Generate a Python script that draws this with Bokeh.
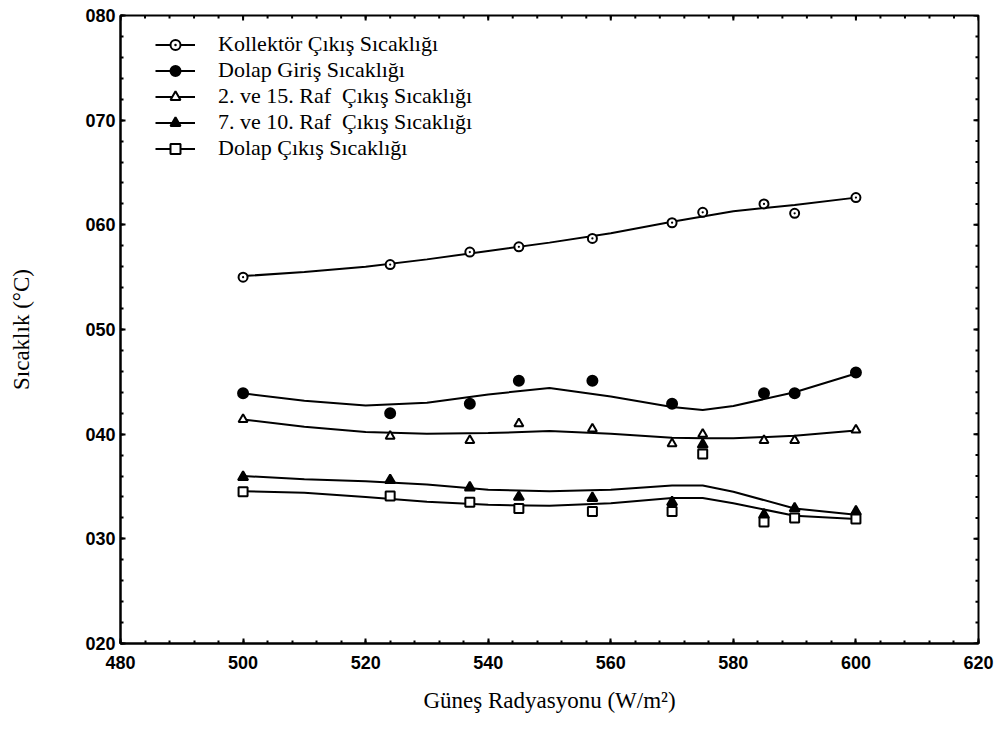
import math
from bokeh.plotting import figure
from bokeh.models import Range1d, FixedTicker, PrintfTickFormatter, Legend, LegendItem
from bokeh.embed import file_html
from bokeh.resources import INLINE

# ---- data ----
x_pts = [500, 524, 537, 545, 557, 570, 575, 585, 590, 600]
kollektor = [55.0, 56.2, 57.4, 57.9, 58.7, 60.2, 61.2, 62.0, 61.1, 62.6]
dolap_giris_x = [500, 524, 537, 545, 557, 570, 585, 590, 600]
dolap_giris = [43.9, 42.0, 42.9, 45.1, 45.1, 42.9, 43.9, 43.9, 45.9]
raf_2_15 = [41.4, 39.8, 39.4, 41.0, 40.5, 39.1, 40.0, 39.4, 39.4, 40.4]
raf_7_10 = [35.9, 35.6, 34.9, 34.0, 33.9, 33.5, 39.0, 32.3, 32.9, 32.6]
dolap_cikis = [34.5, 34.1, 33.5, 32.9, 32.6, 32.6, 38.1, 31.6, 32.0, 31.9]

# fitted (smoothed) curves
x_fit = [500, 510, 520, 530, 540, 550, 560, 570, 575, 580, 590, 600]
kollektor_fit = [55.1, 55.5, 56.0, 56.7, 57.5, 58.3, 59.2, 60.3, 60.8, 61.3, 61.9, 62.6]
dolap_giris_fit = [43.9, 43.2, 42.75, 43.0, 43.8, 44.4, 43.6, 42.6, 42.3, 42.7, 44.0, 45.8]
raf_2_15_fit = [41.4, 40.7, 40.2, 40.05, 40.1, 40.3, 40.05, 39.65, 39.6, 39.6, 39.85, 40.35]
raf_7_10_fit = [36.0, 35.7, 35.5, 35.2, 34.7, 34.55, 34.7, 35.1, 35.1, 34.5, 32.9, 32.3]
dolap_cikis_fit = [34.55, 34.4, 34.0, 33.55, 33.25, 33.15, 33.4, 33.9, 33.9, 33.4, 32.2, 31.9]

labels = ["Kollektör Çıkış Sıcaklığı", "Dolap Giriş Sıcaklığı",
          "2. ve 15. Raf  Çıkış Sıcaklığı", "7. ve 10. Raf  Çıkış Sıcaklığı",
          "Dolap Çıkış Sıcaklığı"]
x_ticks = [480, 500, 520, 540, 560, 580, 600, 620]
y_ticks = [20, 30, 40, 50, 60, 70, 80]
x_minor = [480 + 4 * i for i in range(36)]
y_minor = [20 + 2 * i for i in range(31)]

p = figure(width=998, height=728, output_backend="svg", toolbar_location=None,
           x_range=Range1d(480, 620), y_range=Range1d(20, 80),
           min_border_left=120, min_border_right=20, min_border_top=15,
           min_border_bottom=85)
p.grid.visible = False
p.outline_line_color = "black"
p.outline_line_width = 2
p.background_fill_color = "white"

tick_font = "Liberation Sans"
serif = "Liberation Serif"

p.xaxis.ticker = FixedTicker(ticks=x_ticks, minor_ticks=x_minor)
p.yaxis.ticker = FixedTicker(ticks=y_ticks, minor_ticks=y_minor)
p.yaxis.formatter = PrintfTickFormatter(format="%03d")

for ax in (p.xaxis[0], p.yaxis[0]):
    ax.axis_line_width = 2
    ax.axis_line_color = "black"
    ax.major_tick_in = 5
    ax.major_tick_out = 0
    ax.minor_tick_in = 3
    ax.minor_tick_out = 0
    ax.major_tick_line_width = 2
    ax.minor_tick_line_width = 2
    ax.major_label_text_font = tick_font
    ax.major_label_text_font_style = "bold"
    ax.major_label_text_font_size = "18px"
    ax.major_label_text_color = "black"
    ax.axis_label_text_font = serif
    ax.axis_label_text_font_style = "normal"
    ax.axis_label_text_font_size = "23px"
    ax.axis_label_text_color = "black"

p.xaxis.axis_label = "Güneş Radyasyonu (W/m²)"
p.yaxis.axis_label = "Sıcaklık (°C)"
p.xaxis.major_label_standoff = 12
p.xaxis.axis_label_standoff = 16
p.yaxis.major_label_standoff = 5
p.yaxis.axis_label_standoff = 48

# tick marks on the top and right borders, placed at the tick values
p.scatter(x_ticks, [80] * len(x_ticks), marker="dash", angle=math.pi / 2, size=10,
          line_color="black", line_width=2)
p.scatter(x_minor, [80] * len(x_minor), marker="dash", angle=math.pi / 2, size=6,
          line_color="black", line_width=2)
p.scatter([620] * len(y_ticks), y_ticks, marker="dash", size=10,
          line_color="black", line_width=2)
p.scatter([620] * len(y_minor), y_minor, marker="dash", size=6,
          line_color="black", line_width=2)

lw = 2
r_items = []
series = [
    (x_fit, kollektor_fit, x_pts, kollektor, "circle_dot", "white", 9),
    (x_fit, dolap_giris_fit, dolap_giris_x, dolap_giris, "circle", "black", 10),
    (x_fit, raf_2_15_fit, x_pts, raf_2_15, "triangle", "white", 9),
    (x_fit, raf_7_10_fit, x_pts, raf_7_10, "triangle", "black", 10),
    (x_fit, dolap_cikis_fit, x_pts, dolap_cikis, "square", "white", 9),
]
for (xf, yf, xp, yp, mk, fill, sz), lab in zip(series, labels):
    ln = p.line(xf, yf, line_color="black", line_width=lw)
    sc = p.scatter(xp, yp, marker=mk, size=sz, line_color="black", line_width=2,
                   fill_color=fill)
    r_items.append(LegendItem(label=lab, renderers=[ln, sc]))

legend = Legend(items=r_items, location=(35, 482))
legend.border_line_color = None
legend.background_fill_alpha = 0
legend.label_text_font = serif
legend.label_text_font_size = "22px"
legend.label_text_color = "black"
legend.glyph_width = 40
legend.glyph_height = 25
legend.label_height = 25
legend.spacing = 0
legend.padding = 5
legend.label_standoff = 23
p.add_layout(legend, "center")

open("out.html", "w").write(file_html(p, INLINE))
